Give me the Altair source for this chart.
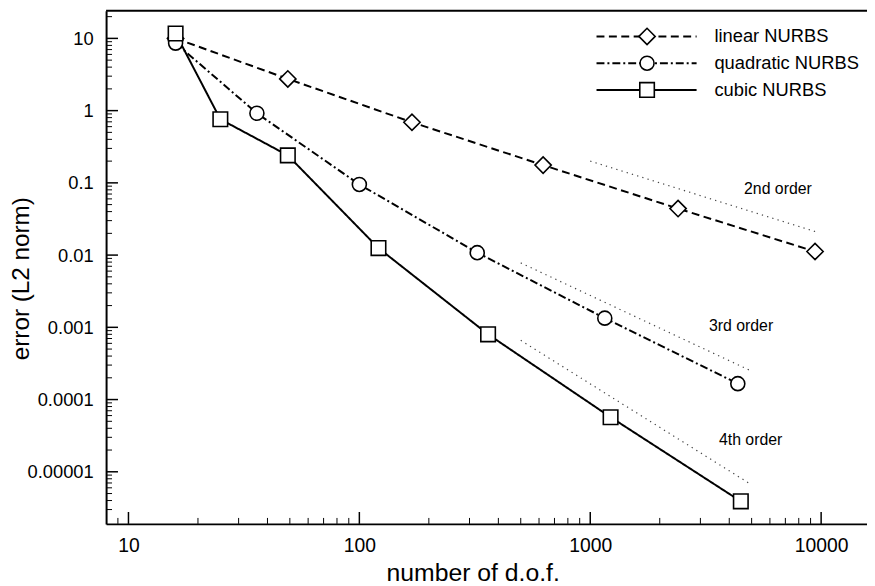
import json
import altair as alt
import pandas as pd

# ---------------- data ----------------
series_names = ["linear NURBS", "quadratic NURBS", "cubic NURBS"]

linear_dof = [16, 49, 169, 625, 2401, 9409]
linear_err = [10.0, 2.75, 0.69, 0.176, 0.044, 0.0112]

quad_dof = [16, 36, 100, 324, 1156, 4356]
quad_err = [8.6, 0.92, 0.095, 0.0108, 0.00134, 0.000166]

cubic_dof = [16, 25, 49, 121, 361, 1225, 4489]
cubic_err = [11.7, 0.76, 0.24, 0.0125, 0.0008, 0.000057, 0.0000039]

order_names = ["2nd order", "3rd order", "4th order"]
order_dof = [[1000, 9500], [500, 5000], [500, 5000]]
order_err = [[0.2, 0.021], [0.0078, 0.000247], [0.00066, 0.0000066]]
order_label_dof = [6500, 4500, 4950]
order_label_err = [0.083, 0.00104, 0.0000277]

x_major = [10, 100, 1000, 10000]
x_labels = ["10", "100", "1000", "10000"]
x_minor = [9, 20, 30, 40, 50, 60, 70, 80, 90,
           200, 300, 400, 500, 600, 700, 800, 900,
           2000, 3000, 4000, 5000, 6000, 7000, 8000, 9000]

y_major = [0.00001, 0.0001, 0.001, 0.01, 0.1, 1, 10]
y_labels = ["0.00001", "0.0001", "0.001", "0.01", "0.1", "1", "10"]
y_minor = [3e-6, 4e-6, 5e-6, 6e-6, 7e-6, 8e-6, 9e-6,
           2e-5, 3e-5, 4e-5, 5e-5, 6e-5, 7e-5, 8e-5, 9e-5,
           2e-4, 3e-4, 4e-4, 5e-4, 6e-4, 7e-4, 8e-4, 9e-4,
           0.002, 0.003, 0.004, 0.005, 0.006, 0.007, 0.008, 0.009,
           0.02, 0.03, 0.04, 0.05, 0.06, 0.07, 0.08, 0.09,
           0.2, 0.3, 0.4, 0.5, 0.6, 0.7, 0.8, 0.9,
           2, 3, 4, 5, 6, 7, 8, 9, 20]

x_title = "number of d.o.f."
y_title = "error (L2 norm)"

# ---------------- layout ----------------
W, H = 768, 518
FONT = "Liberation Sans"

xscale = alt.Scale(type="log", domain=[8, 15800], nice=False)
yscale = alt.Scale(type="log", domain=[1.9e-6, 24.2], nice=False)

xaxis = alt.Axis(
    values=x_major,
    labelExpr=f"{json.dumps(x_labels)}[indexof({json.dumps(x_major)}, datum.value)]",
    ticks=False, grid=False, domainColor="black", domainWidth=2,
    labelFont=FONT, labelFontSize=19.5, labelColor="black", labelPadding=13,
    labelFlush=False, labelOverlap=False,
    title=x_title, titleFont=FONT, titleFontSize=25, titleFontWeight="normal",
    titleColor="black", titleX=370, titleY=49, titleAlign="center",
    titleBaseline="middle", titleAnchor="middle",
)
yaxis = alt.Axis(
    values=y_major,
    labelExpr=f"{json.dumps(y_labels)}[indexof({json.dumps(y_major)}, datum.value)]",
    ticks=False, grid=False, domainColor="black", domainWidth=2,
    labelFont=FONT, labelFontSize=18.5, labelColor="black", labelPadding=13,
    labelFlush=False, labelOverlap=False,
    title=y_title, titleFont=FONT, titleFontSize=24.5, titleFontWeight="normal",
    titleColor="black", titleX=-97, titleY=270, titleAngle=-90,
    titleAlign="center", titleBaseline="top",
)


def X(field):
    return alt.X(f"{field}:Q", scale=xscale, axis=xaxis)


def Y(field):
    return alt.Y(f"{field}:Q", scale=yscale, axis=yaxis)


dfs = [
    pd.DataFrame({"dof": linear_dof, "err": linear_err}),
    pd.DataFrame({"dof": quad_dof, "err": quad_err}),
    pd.DataFrame({"dof": cubic_dof, "err": cubic_err}),
]
dashes = [[8, 4.5], [8, 3, 2, 3], [1, 0]]
shapes = ["diamond", "circle", "square"]
sizes = [270, 200, 215]

layers = []

# reference slopes (dotted)
for name, d, e in zip(order_names, order_dof, order_err):
    df = pd.DataFrame({"dof": d, "err": e})
    layers.append(
        alt.Chart(df).mark_line(color="#444444", strokeWidth=1.2, strokeDash=[1.3, 4.2])
        .encode(x=X("dof"), y=Y("err"))
    )
df_lab = pd.DataFrame({"dof": order_label_dof, "err": order_label_err, "t": order_names})
layers.append(
    alt.Chart(df_lab).mark_text(font=FONT, fontSize=16, color="black", align="center", baseline="middle")
    .encode(x=X("dof"), y=Y("err"), text="t:N")
)

# series lines
for df, dash in zip(dfs, dashes):
    layers.append(
        alt.Chart(df).mark_line(color="black", strokeWidth=2, strokeDash=dash)
        .encode(x=X("dof"), y=Y("err"))
    )
# series markers
for df, shp, sz in zip(dfs, shapes, sizes):
    layers.append(
        alt.Chart(df).mark_point(shape=shp, size=sz, filled=True, fill="white",
                                 stroke="black", strokeWidth=1.6, opacity=1)
        .encode(x=X("dof"), y=Y("err"))
    )

# axis ticks (inward)
one = pd.DataFrame({"a": [0]})
layers.append(alt.Chart(pd.DataFrame({"v": y_major})).mark_rule(color="black", strokeWidth=1.5)
              .encode(y=Y("v"), x=alt.value(0), x2=alt.value(12)))
layers.append(alt.Chart(pd.DataFrame({"v": y_minor})).mark_rule(color="black", strokeWidth=1)
              .encode(y=Y("v"), x=alt.value(0), x2=alt.value(6)))
layers.append(alt.Chart(pd.DataFrame({"v": x_major})).mark_rule(color="black", strokeWidth=1.5)
              .encode(x=X("v"), y=alt.value(H), y2=alt.value(H - 12)))
layers.append(alt.Chart(pd.DataFrame({"v": x_minor})).mark_rule(color="black", strokeWidth=1)
              .encode(x=X("v"), y=alt.value(H), y2=alt.value(H - 6)))
# top frame line
layers.append(alt.Chart(one).mark_rule(color="black", strokeWidth=2)
              .encode(x=alt.value(0), x2=alt.value(W + 20), y=alt.value(0)))

# legend (positions relative to the plot area)
leg_rows = [26, 53, 80]
for name, dash, shp, sz, ry in zip(series_names, dashes, shapes, sizes, leg_rows):
    layers.append(alt.Chart(one).mark_rule(color="black", strokeWidth=2, strokeDash=dash)
                  .encode(x=alt.value(495), x2=alt.value(596), y=alt.value(ry)))
    layers.append(alt.Chart(one).mark_point(shape=shp, size=sz, filled=True, fill="white",
                                            stroke="black", strokeWidth=1.6, opacity=1)
                  .encode(x=alt.value(546), y=alt.value(ry)))
    layers.append(alt.Chart(pd.DataFrame({"t": [name]})).mark_text(
        font=FONT, fontSize=18.5, color="black", align="left", baseline="middle")
        .encode(x=alt.value(614), y=alt.value(ry), text="t:N"))

chart = alt.layer(*layers).properties(
    width=W, height=H,
    autosize=alt.AutoSizeParams(type="none"),
    padding={"left": 99, "top": 0, "right": 0, "bottom": 60},
    background="white",
).configure_view(stroke=None)

chart.save("out.html", embed_options={"renderer": "svg", "actions": False})
